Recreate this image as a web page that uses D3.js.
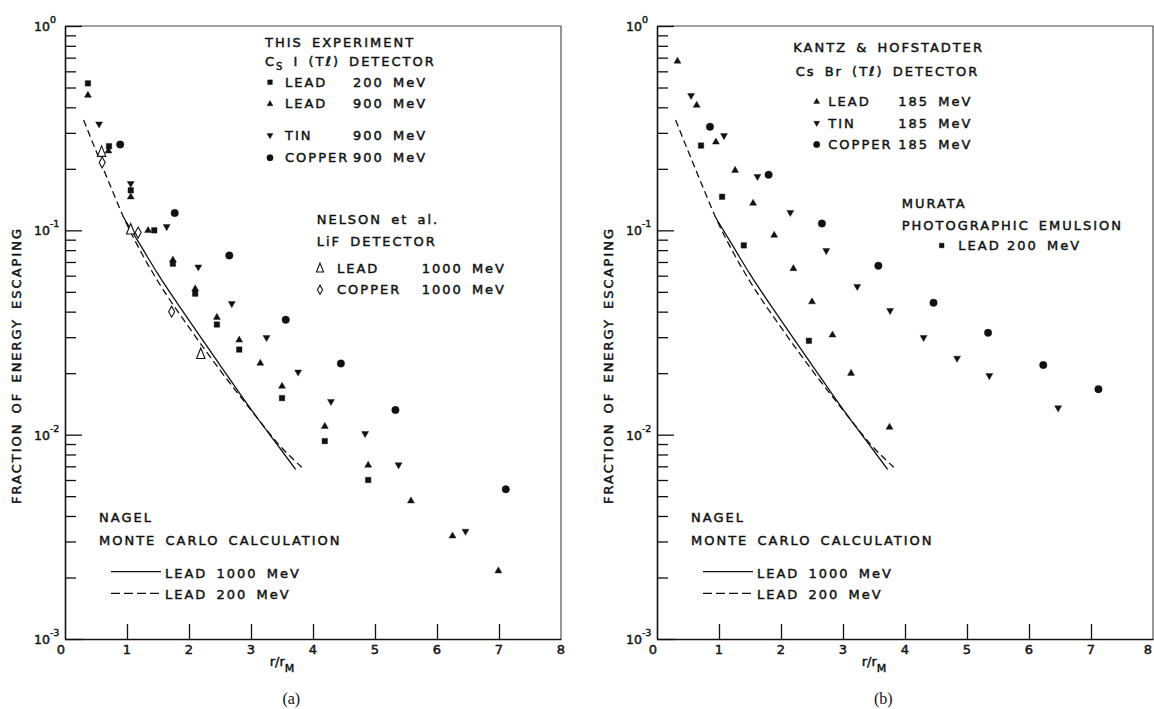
<!DOCTYPE html>
<html>
<head>
<meta charset="utf-8">
<script src="https://cdn.jsdelivr.net/npm/d3@7"></script>
<style>
  body { margin: 0; background: #fff; }
  svg text { font-family: "DejaVu Sans", sans-serif; fill: #111; }
  .lbl { font-size: 13px; letter-spacing: 2px; word-spacing: 3px; stroke: #111; stroke-width: 0.45px; }
  .tick-lbl { font-size: 13px; stroke: #111; stroke-width: 0.45px; }
  .cap { font-family: "Liberation Serif", serif !important; font-size: 16px; }
</style>
</head>
<body>
<svg width="1154" height="709"></svg>
<script>
// ---- axis values
var xTicks = [0, 1, 2, 3, 4, 5, 6, 7, 8];
var innerXTicks = [1, 2, 3, 4, 5, 6, 7];
var yDecades = [1, 0.1, 0.01, 0.001];
var decadeExp = ["0", "-1", "-2", "-3"];

// ---- panel (a): this experiment, CsI(Tl) detector  [r/rM, fraction]
var lead200a = [[0.37,0.524],[0.71,0.258],[1.06,0.157],[1.44,0.10],[1.74,0.0687],[2.10,0.049],[2.45,0.0346],[2.81,0.0261],[3.50,0.0151],[4.19,0.0093],[4.89,0.0060]];
var lead900a = [[0.37,0.459],[0.70,0.245],[1.06,0.146],[1.34,0.10],[1.74,0.0718],[2.10,0.0518],[2.45,0.0376],[2.81,0.0291],[3.15,0.0224],[3.50,0.0173],[4.19,0.011],[4.89,0.0071],[5.58,0.00475],[6.25,0.0032],[6.99,0.00216]];
var tin900a = [[0.55,0.331],[1.06,0.169],[1.64,0.104],[2.15,0.066],[2.69,0.0437],[3.25,0.0298],[3.76,0.0202],[4.29,0.0145],[4.84,0.0101],[5.38,0.0071],[6.46,0.00336]];
var copper900a = [[0.89,0.263],[1.77,0.1215],[2.65,0.0754],[3.56,0.0365],[4.45,0.0223],[5.33,0.0132],[7.11,0.0054]];
// Nelson et al., LiF detector
var nelsonLead = [[0.59,0.242],[1.06,0.101],[2.19,0.0248]];
var nelsonCopper = [[0.60,0.215],[1.18,0.0975],[1.72,0.040]];

// ---- panel (b): Kantz & Hofstadter, CsBr(Tl) detector
var lead185 = [[0.33,0.674],[0.64,0.41],[0.95,0.271],[1.26,0.197],[1.55,0.136],[1.89,0.0948],[2.20,0.0651],[2.50,0.0448],[2.83,0.0308],[3.13,0.020],[3.75,0.0109]];
var tin185 = [[0.55,0.456],[1.08,0.29],[1.62,0.183],[2.15,0.122],[2.73,0.0794],[3.23,0.053],[3.76,0.0404],[4.30,0.0298],[4.84,0.0236],[5.36,0.0194],[6.47,0.0135]];
var copper185 = [[0.855,0.321],[1.80,0.187],[2.66,0.108],[3.57,0.0671],[4.46,0.0442],[5.34,0.0315],[6.23,0.0219],[7.12,0.0167]];
// Murata, photographic emulsion
var murataLead = [[0.71,0.26],[1.05,0.146],[1.40,0.0844],[2.45,0.0288]];

// ---- Nagel Monte Carlo curves (same in both panels)
var nagel1000 = [[0.95,0.115],[1.25,0.0813],[1.5,0.0610],[2.0,0.0363],[2.5,0.0219],[3.0,0.0133],[3.5,0.00832],[3.72,0.00676]];
var nagel200 = [[0.30,0.347],[0.5,0.245],[0.75,0.160],[0.95,0.115],[1.25,0.0759],[1.5,0.0562],[2.0,0.0335],[2.5,0.0207],[3.0,0.0132],[3.5,0.00861],[3.82,0.00692]];

var W = 496, H = 613;

function markerPath(type, k) {
  k = k || 1;
  var s;
  if (type == "square") { s = 5.5 * k; return "M" + (-s/2) + "," + (-s/2) + "h" + s + "v" + s + "h" + (-s) + "Z"; }
  if (type == "up") { s = 7 * k; return "M0," + (-s*0.55) + "L" + (s/2) + "," + (s*0.32) + "L" + (-s/2) + "," + (s*0.32) + "Z"; }
  if (type == "down") { s = 7 * k; return "M0," + (s*0.55) + "L" + (s/2) + "," + (-s*0.32) + "L" + (-s/2) + "," + (-s*0.32) + "Z"; }
  if (type == "circle") { return d3.symbol(d3.symbolCircle, 44 * k * k)(); }
  if (type == "openTri") { return "M0," + (-6*k) + "L" + (4.2*k) + "," + (4.5*k) + "L" + (-4.2*k) + "," + (4.5*k) + "Z"; }
  if (type == "diamond") { return "M0," + (-5.5*k) + "L" + (3*k) + ",0L0," + (5.5*k) + "L" + (-3*k) + ",0Z"; }
}
function isOpen(type) { return type == "openTri" || type == "diamond"; }

var svg = d3.select("svg");

var panels = [
  {
    left: 65, top: 26, cap: "(a)",
    series: [
      {data: lead200a, type: "square"},
      {data: lead900a, type: "up"},
      {data: tin900a, type: "down"},
      {data: copper900a, type: "circle"},
      {data: nelsonLead, type: "openTri"},
      {data: nelsonCopper, type: "diamond"}
    ],
    titles: [
      {x: 200, y: 21, t: "THIS EXPERIMENT"},
      {x: 251.7, y: 198, t: "NELSON et al."},
      {x: 251.7, y: 220, t: "LiF DETECTOR"}
    ],
    detector: {x: 200, y: 40, main: "C", sub: "S", rest: " I (Tℓ) DETECTOR"},
    rows: [
      {mx: 205, y: 60.7, type: "square", name: "LEAD", nx: 220, val: "200 MeV", vx: 288},
      {mx: 205, y: 82.3, type: "up", name: "LEAD", nx: 220, val: "900 MeV", vx: 288},
      {mx: 205, y: 114, type: "down", name: "TIN", nx: 220, val: "900 MeV", vx: 288},
      {mx: 205, y: 136.3, type: "circle", name: "COPPER", nx: 220, val: "900 MeV", vx: 288},
      {mx: 255, y: 246.7, type: "openTri", name: "LEAD", nx: 272, val: "1000 MeV", vx: 356.7},
      {mx: 255, y: 268.3, type: "diamond", name: "COPPER", nx: 272, val: "1000 MeV", vx: 356.7}
    ]
  },
  {
    left: 657, top: 26, cap: "(b)",
    series: [
      {data: lead185, type: "up"},
      {data: tin185, type: "down"},
      {data: copper185, type: "circle"},
      {data: murataLead, type: "square"}
    ],
    titles: [
      {x: 136.3, y: 25.7, t: "KANTZ & HOFSTADTER"},
      {x: 244.7, y: 182.3, t: "MURATA"},
      {x: 244.7, y: 204, t: "PHOTOGRAPHIC EMULSION"}
    ],
    detector: {x: 138.7, y: 50, main: "Cs Br (Tℓ) DETECTOR", sub: null, rest: ""},
    rows: [
      {mx: 159.7, y: 80, type: "up", name: "LEAD", nx: 171.3, val: "185 MeV", vx: 241.3},
      {mx: 159.7, y: 101.7, type: "down", name: "TIN", nx: 171.3, val: "185 MeV", vx: 241.3},
      {mx: 159.7, y: 123, type: "circle", name: "COPPER", nx: 171.3, val: "185 MeV", vx: 241.3},
      {mx: 284.7, y: 224, type: "square", name: "LEAD", nx: 301.3, val: "200 MeV", vx: 350}
    ]
  }
];

panels.forEach(function(p) {
  var x = d3.scaleLinear().domain([0, 8]).range([0, W]);
  var y = d3.scaleLog().domain([0.001, 1]).range([H, 0]);
  var g = svg.append("g").attr("transform", "translate(" + p.left + "," + p.top + ")");

  // frame top/right
  g.append("path").attr("d", "M0,0H" + W + "V" + H)
    .attr("fill", "none").attr("stroke", "#444").attr("stroke-width", 1.1);

  // y axis: minor and major ticks pointing inward
  var minor = y.ticks().filter(function(v) { return yDecades.indexOf(v) < 0; });
  g.append("g").call(d3.axisRight(y).tickValues(minor).tickSize(11).tickFormat(""))
    .call(function(a) { a.select(".domain").remove(); });
  g.append("g").call(d3.axisRight(y).tickValues(yDecades).tickSize(17).tickFormat("").tickSizeOuter(0));
  // x axis ticks pointing up
  g.append("g").attr("transform", "translate(0," + H + ")")
    .call(d3.axisTop(x).tickValues(innerXTicks).tickSize(15).tickFormat("").tickSizeOuter(0));
  g.selectAll(".domain").attr("stroke", "#111").attr("stroke-width", 1.6);
  g.selectAll(".tick line").attr("stroke", "#111").attr("stroke-width", 1.3);

  // x tick labels
  g.selectAll(".xl").data(xTicks).enter().append("text")
    .attr("class", "tick-lbl")
    .attr("x", function(d) {
      if (d == 0) return x(d) - 4;
      if (p.left + x(d) + 5 > 1154) return x(d) - 1;
      return x(d);
    })
    .attr("y", H + 15)
    .attr("text-anchor", function(d) { return p.left + x(d) + 5 > 1154 ? "end" : "middle"; })
    .text(function(d) { return d; });

  // y tick labels 10^n
  yDecades.forEach(function(v, i) {
    var t = g.append("text").attr("class", "tick-lbl")
      .attr("x", -31).attr("y", y(v) + 5);
    t.append("tspan").attr("font-size", 12.5).text("10");
    t.append("tspan").attr("font-size", 9.5).attr("dy", -8).text(decadeExp[i]);
  });

  // axis titles
  g.append("text").attr("class", "lbl")
    .attr("transform", "translate(-44," + (H / 2 + 33) + ") rotate(-90)")
    .attr("text-anchor", "middle").attr("letter-spacing", 2.3)
    .text("FRACTION OF ENERGY ESCAPING");
  var xl = g.append("text").attr("class", "tick-lbl").attr("font-size", 12)
    .attr("x", x(3.5)).attr("y", H + 27).attr("text-anchor", "middle");
  xl.append("tspan").text("r/r");
  xl.append("tspan").attr("font-size", 11).attr("dy", 6).text("M");
  g.append("text").attr("class", "cap")
    .attr("x", x(3.65)).attr("y", H + 65).attr("text-anchor", "middle").text(p.cap);

  // Nagel curves
  var line = d3.line().x(function(d) { return x(d[0]); }).y(function(d) { return y(d[1]); })
    .curve(d3.curveMonotoneX);
  g.append("path").datum(nagel1000).attr("d", line)
    .attr("fill", "none").attr("stroke", "#111").attr("stroke-width", 1.3);
  g.append("path").datum(nagel200).attr("d", line)
    .attr("fill", "none").attr("stroke", "#111").attr("stroke-width", 1.3)
    .attr("stroke-dasharray", "7,4");

  // data markers
  p.series.forEach(function(s) {
    g.selectAll(null).data(s.data).enter().append("path")
      .attr("transform", function(d) { return "translate(" + x(d[0]) + "," + y(d[1]) + ")"; })
      .attr("d", markerPath(s.type))
      .attr("fill", isOpen(s.type) ? "#fff" : "#111")
      .attr("stroke", "#111").attr("stroke-width", isOpen(s.type) ? 1.1 : 0.4);
  });

  // legend texts
  p.titles.forEach(function(t) {
    g.append("text").attr("class", "lbl").attr("x", t.x).attr("y", t.y).text(t.t);
  });
  var dt = g.append("text").attr("class", "lbl").attr("x", p.detector.x).attr("y", p.detector.y)
    .style("white-space", "pre");
  dt.append("tspan").text(p.detector.main);
  if (p.detector.sub) {
    dt.append("tspan").attr("font-size", 10).attr("dy", 4).text(p.detector.sub);
    dt.append("tspan").attr("dy", -4).text(p.detector.rest);
  }
  p.rows.forEach(function(r) {
    g.append("path").attr("transform", "translate(" + r.mx + "," + (r.y - 4.5) + ")")
      .attr("d", markerPath(r.type, 0.85))
      .attr("fill", isOpen(r.type) ? "#fff" : "#111")
      .attr("stroke", "#111").attr("stroke-width", isOpen(r.type) ? 1.1 : 0.4);
    g.append("text").attr("class", "lbl").attr("x", r.nx).attr("y", r.y).text(r.name);
    g.append("text").attr("class", "lbl").attr("x", r.vx).attr("y", r.y).text(r.val);
  });

  // Nagel legend
  g.append("text").attr("class", "lbl").attr("x", 34).attr("y", 495.5).text("NAGEL");
  g.append("text").attr("class", "lbl").attr("x", 34).attr("y", 519).text("MONTE CARLO CALCULATION");
  g.append("line").attr("x1", 46).attr("x2", 96).attr("y1", 545.7).attr("y2", 545.7)
    .attr("stroke", "#111").attr("stroke-width", 1.3);
  g.append("line").attr("x1", 46).attr("x2", 96).attr("y1", 567.3).attr("y2", 567.3)
    .attr("stroke", "#111").attr("stroke-width", 1.3).attr("stroke-dasharray", "9,4");
  g.append("text").attr("class", "lbl").attr("x", 100).attr("y", 551.5).text("LEAD 1000 MeV");
  g.append("text").attr("class", "lbl").attr("x", 100).attr("y", 573).text("LEAD 200 MeV");
});
</script>
</body>
</html>
